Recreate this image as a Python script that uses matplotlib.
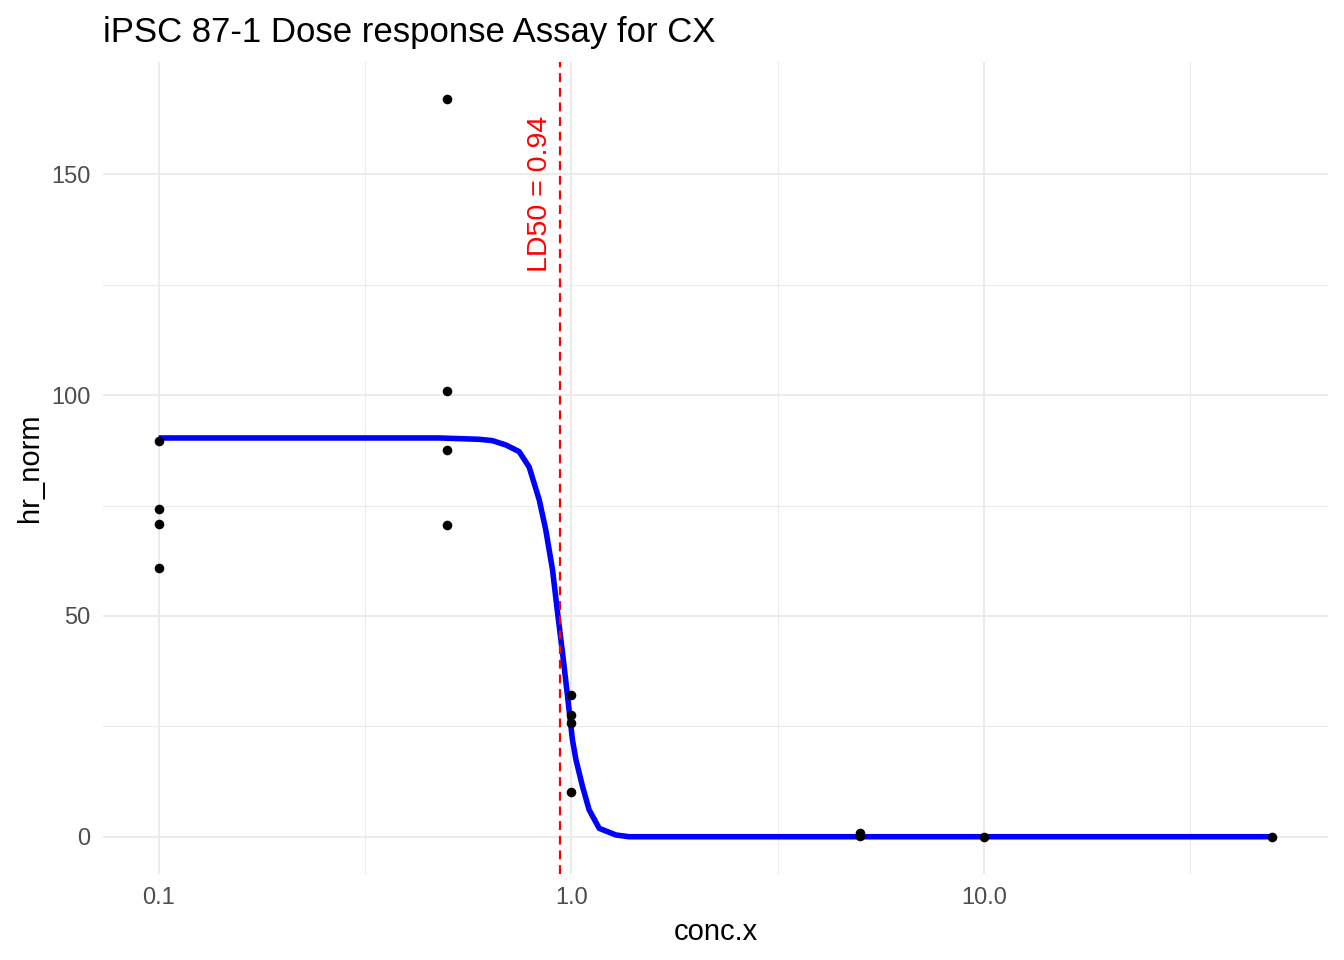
import numpy as np
import matplotlib
matplotlib.use("Agg")
import matplotlib.pyplot as plt

conc = [0.1, 0.1, 0.1, 0.1,
        0.5, 0.5, 0.5, 0.5,
        1.0, 1.0, 1.0, 1.0,
        5.0, 5.0, 10.0, 50.0]
hr_norm = [89.6, 74.2, 70.8, 60.9,
           167.0, 100.9, 87.6, 70.6,
           32.1, 27.6, 25.8, 10.2,
           0.9, 0.1, 0.0, 0.0]

# fitted dose-response curve
curve_x = [0.1, 0.479, 0.598, 0.644, 0.695, 0.748, 0.791, 0.837, 0.868, 0.901,
           0.927, 0.953, 0.980, 1.007, 1.027, 1.065, 1.105, 1.169, 1.283, 1.381, 5.0, 50.0]
curve_y = [90.3, 90.3, 90.0, 89.7, 88.7, 87.2, 83.7, 76.2, 69.4, 60.4,
           50.6, 41.5, 31.7, 21.9, 17.4, 11.4, 6.1, 1.9, 0.4, 0.0, 0.0, 0.0]

ld50 = 0.94
title = "iPSC 87-1 Dose response Assay for CX"

plt.rcParams['font.family'] = ['Liberation Sans', 'DejaVu Sans']

fig = plt.figure(figsize=(13.44, 9.6), dpi=100)
ax = fig.add_axes([0.0766, 0.09, 0.9114, 0.845])

grid_col = "#EBEBEB"
ax.set_xscale("log")
xmin, xmax = np.log10(min(conc)), np.log10(max(conc))
xpad = 0.05 * (xmax - xmin)
ax.set_xlim(10 ** (xmin - xpad), 10 ** (xmax + xpad))
ymin, ymax = 0.0, max(hr_norm)
ypad = 0.05 * (ymax - ymin)
ax.set_ylim(ymin - ypad, ymax + ypad)

ax.set_xticks([0.1, 1.0, 10.0])
ax.set_xticklabels(["0.1", "1.0", "10.0"])
ax.set_xticks([10 ** -0.5, 10 ** 0.5, 10 ** 1.5], minor=True)
ax.set_xticklabels([], minor=True)
ax.set_yticks([0, 50, 100, 150])
ax.set_yticks([25, 75, 125], minor=True)

ax.grid(True, which="major", color=grid_col, lw=1.4)
ax.grid(True, which="minor", color=grid_col, lw=0.8)
ax.set_axisbelow(True)
for s in ax.spines.values():
    s.set_visible(False)
ax.tick_params(which="both", length=0)
ax.tick_params(axis="x", labelsize=17, labelcolor="#4D4D4D", pad=10)
ax.tick_params(axis="y", labelsize=17, labelcolor="#4D4D4D", pad=9)

ax.plot(curve_x, curve_y, color="blue", lw=4, zorder=3, solid_capstyle="butt")
ax.scatter(conc, hr_norm, s=48, color="black", zorder=4, linewidths=0)

ax.axvline(ld50, color="red", lw=1.6, dashes=(4, 2.6), zorder=5)
ax.annotate(f"LD50 = {ld50}", xy=(ld50, 145.6), xytext=(-20, 0), textcoords="offset pixels",
            rotation=90, ha="center", va="center", color="red", fontsize=20.5)

ax.set_xlabel("conc.x", fontsize=21, labelpad=6)
ax.set_ylabel("hr_norm", fontsize=21, labelpad=5)
ax.set_title(title, loc="left", fontsize=25, pad=15)

fig.savefig("out.png", dpi=100, facecolor="white")
